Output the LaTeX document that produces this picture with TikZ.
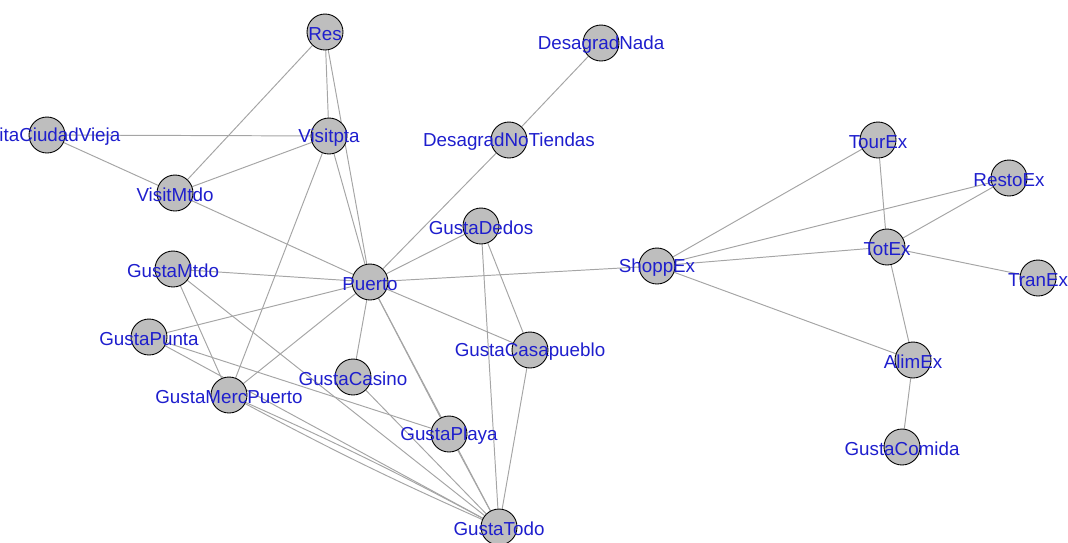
\documentclass[tikz,border=0pt]{standalone}
\usepackage{fontspec}
\setmainfont{Liberation Sans}
\usetikzlibrary{backgrounds}
\definecolor{lblue}{RGB}{30,30,205}
\definecolor{vfill}{RGB}{190,190,190}
\definecolor{ecol}{RGB}{165,165,165}
\tikzset{
  vert/.style={circle, draw=black, line width=0.5pt, fill=vfill, minimum size=0.72cm, inner sep=0pt},
  vlab/.style={text=lblue, font=\fontsize{10.7}{12}\selectfont, inner sep=0pt, anchor=center},
  edge/.style={draw=ecol, line width=0.55pt}
}
\newcommand{\vtx}[4]{\node[vert] (#1) at (#2,#3) {}; \node[vlab] (#1l) at ([yshift=-0.04cm]#1.center) {#4};}
\begin{document}
\begin{tikzpicture}[x=0.02cm, y=-0.02cm]
\clip (0,0) rectangle (1068,542);
\vtx{res}{325}{32}{Res}
\vtx{vpta}{329}{136}{Visitpta}
\vtx{cvieja}{47}{135}{VisitaCiudadVieja}
\vtx{vmtdo}{175}{193}{VisitMtdo}
\vtx{gmtdo}{173}{269}{GustaMtdo}
\vtx{gpunta}{149}{337}{GustaPunta}
\vtx{gmp}{229}{395}{GustaMercPuerto}
\vtx{gcasino}{353}{377}{GustaCasino}
\vtx{gplaya}{449}{434}{GustaPlaya}
\vtx{gtodo}{499}{527}{GustaTodo}
\vtx{puerto}{370}{282}{Puerto}
\vtx{gdedos}{481}{226}{GustaDedos}
\vtx{gcasa}{530}{350}{GustaCasapueblo}
\vtx{dnt}{509}{140}{DesagradNoTiendas}
\vtx{dnada}{601}{43}{DesagradNada}
\vtx{shopp}{657}{266}{ShoppEx}
\vtx{tour}{878}{140}{TourEx}
\vtx{resto}{1009}{178}{RestoEx}
\vtx{tot}{887}{247}{TotEx}
\vtx{tran}{1038}{278}{TranEx}
\vtx{alim}{913}{360}{AlimEx}
\vtx{gcomida}{902}{447}{GustaComida}
\begin{scope}[on background layer]
\draw[edge] (res) -- (vmtdo);
\draw[edge] (res) -- (vpta);
\draw[edge] (res) -- (puerto);
\draw[edge] (cvieja) -- (vpta);
\draw[edge] (cvieja) -- (vmtdo);
\draw[edge] (vmtdo) -- (vpta);
\draw[edge] (vpta) -- (puerto);
\draw[edge] (vpta) -- (gmp);
\draw[edge] (vmtdo) -- (puerto);
\draw[edge] (gmtdo) -- (puerto);
\draw[edge] (gmtdo) -- (gmp);
\draw[edge] (gmtdo) -- (gtodo);
\draw[edge] (gpunta) -- (puerto);
\draw[edge] (gpunta) -- (gplaya);
\draw[edge] (gpunta) -- (gtodo);
\draw[edge] (gmp) -- (puerto);
\draw[edge] (gmp) to[bend left=2] (gtodo);
\draw[edge] (gmp) to[bend right=2] (gtodo);
\draw[edge] (gcasino) -- (puerto);
\draw[edge] (gcasino) -- (gtodo);
\draw[edge] (puerto) -- (gplaya);
\draw[edge] (puerto) -- (gtodo);
\draw[edge] (gplaya) -- (gtodo);
\draw[edge] (puerto) -- (gcasa);
\draw[edge] (puerto) -- (gdedos);
\draw[edge] (puerto) -- (dnt);
\draw[edge] (puerto) -- (shopp);
\draw[edge] (gdedos) -- (gtodo);
\draw[edge] (gdedos) -- (gcasa);
\draw[edge] (gcasa) -- (gtodo);
\draw[edge] (dnt) -- (dnada);
\draw[edge] (shopp) -- (tour);
\draw[edge] (shopp) -- (resto);
\draw[edge] (shopp) -- (tot);
\draw[edge] (shopp) -- (alim);
\draw[edge] (tot) -- (tour);
\draw[edge] (tot) -- (resto);
\draw[edge] (tot) -- (tran);
\draw[edge] (tot) -- (alim);
\draw[edge] (alim) -- (gcomida);
\end{scope}
\end{tikzpicture}
\end{document}
